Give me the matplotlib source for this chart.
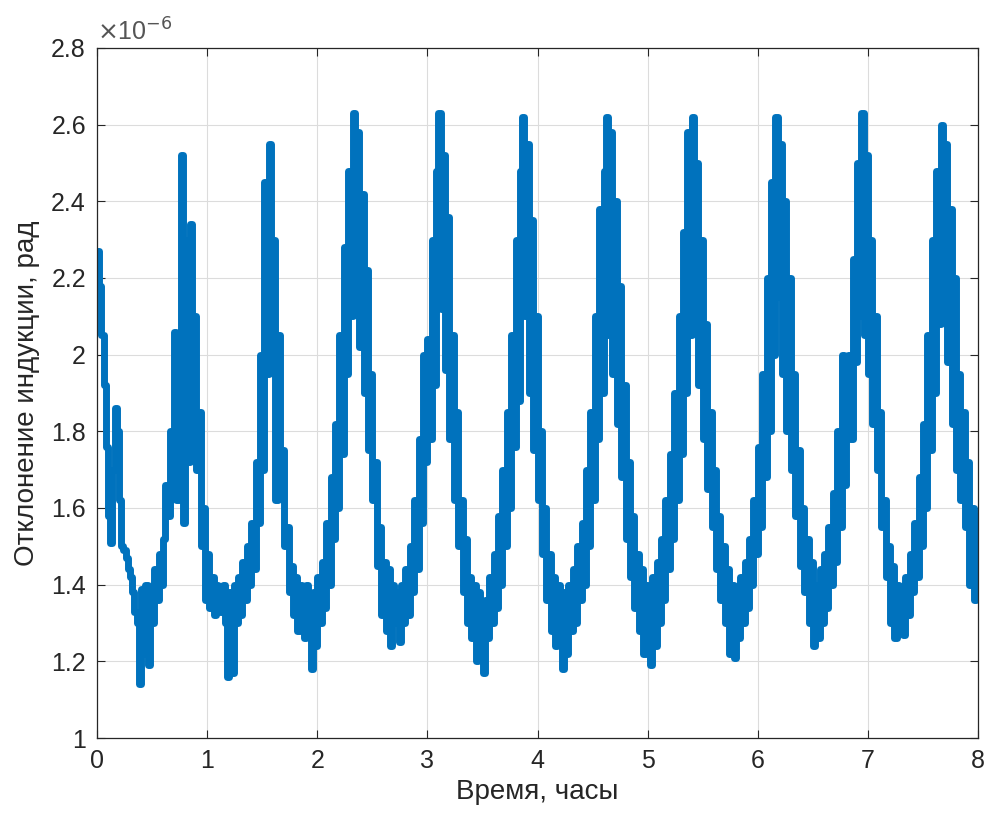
import numpy as np
import matplotlib
matplotlib.use('Agg')
import matplotlib.pyplot as plt
from matplotlib.ticker import FuncFormatter

plt.rcParams['font.family'] = ['Liberation Sans', 'DejaVu Sans']

# отклонение индукции, единицы 1e-6 рад, шаг 0.02 ч
otkl = [
    2.27, 2.18, 2.05, 1.92, 1.76, 1.58, 1.51, 1.70, 1.86, 1.80,
    1.62, 1.50, 1.49, 1.47, 1.44, 1.42, 1.38, 1.33, 1.30, 1.14,
    1.39, 1.22, 1.40, 1.19, 1.38, 1.30, 1.44, 1.36, 1.48, 1.40,
    1.52, 1.66, 1.58, 1.80, 1.64, 2.06, 1.62, 2.05, 2.52, 1.56,
    2.30, 1.72, 2.34, 1.80, 2.10, 1.70, 1.85, 1.50, 1.60, 1.36,
    1.48, 1.34, 1.42, 1.32, 1.40, 1.36, 1.33, 1.40, 1.30, 1.16,
    1.38, 1.17, 1.40, 1.30, 1.42, 1.32, 1.46, 1.36, 1.50, 1.40,
    1.56, 1.44, 1.72, 1.56, 2.00, 1.70, 2.45, 1.95, 2.55, 2.08,
    2.30, 1.62, 2.05, 1.70, 1.75, 1.50, 1.55, 1.38, 1.45, 1.32,
    1.42, 1.28, 1.40, 1.30, 1.26, 1.40, 1.32, 1.18, 1.38, 1.24,
    1.42, 1.30, 1.46, 1.34, 1.56, 1.40, 1.68, 1.52, 1.82, 1.60,
    2.05, 1.74, 2.28, 1.95, 2.48, 2.10, 2.63, 2.20, 2.58, 2.02,
    2.42, 1.90, 2.22, 1.75, 1.95, 1.62, 1.72, 1.45, 1.55, 1.32,
    1.46, 1.28, 1.44, 1.24, 1.40, 1.30, 1.38, 1.25, 1.40, 1.30,
    1.44, 1.32, 1.50, 1.38, 1.62, 1.44, 1.78, 1.56, 2.00, 1.72,
    2.04, 1.78, 2.30, 1.92, 2.48, 2.63, 2.12, 2.52, 1.96, 2.36,
    1.78, 2.05, 1.62, 1.85, 1.50, 1.62, 1.38, 1.52, 1.30, 1.42,
    1.26, 1.40, 1.20, 1.38, 1.22, 1.17, 1.36, 1.26, 1.42, 1.30,
    1.48, 1.34, 1.58, 1.40, 1.70, 1.50, 1.85, 1.60, 2.05, 1.76,
    2.30, 1.88, 2.48, 2.62, 2.10, 2.55, 1.90, 2.35, 1.75, 2.10,
    1.62, 1.80, 1.48, 1.60, 1.36, 1.48, 1.28, 1.42, 1.24, 1.40,
    1.30, 1.18, 1.38, 1.22, 1.40, 1.28, 1.44, 1.30, 1.50, 1.36,
    1.56, 1.40, 1.70, 1.50, 1.85, 1.62, 2.10, 1.78, 2.38, 1.90,
    2.48, 2.62, 2.05, 2.58, 1.95, 2.40, 1.82, 2.18, 1.68, 1.92,
    1.52, 1.72, 1.42, 1.58, 1.34, 1.48, 1.28, 1.44, 1.22, 1.40,
    1.30, 1.19, 1.42, 1.24, 1.46, 1.30, 1.52, 1.36, 1.62, 1.44,
    1.74, 1.52, 1.90, 1.62, 2.10, 1.74, 2.32, 1.90, 2.58, 2.05,
    2.62, 2.10, 2.50, 1.92, 2.30, 1.78, 2.08, 1.65, 1.85, 1.55,
    1.70, 1.44, 1.58, 1.36, 1.50, 1.30, 1.44, 1.22, 1.40, 1.21,
    1.38, 1.26, 1.42, 1.30, 1.46, 1.34, 1.52, 1.40, 1.62, 1.48,
    1.76, 1.55, 1.95, 1.68, 2.20, 1.80, 2.45, 2.00, 2.62, 2.15,
    2.55, 1.95, 2.40, 1.80, 2.20, 1.70, 1.95, 1.58, 1.75, 1.45,
    1.60, 1.38, 1.52, 1.30, 1.46, 1.24, 1.40, 1.26, 1.44, 1.30,
    1.48, 1.34, 1.55, 1.40, 1.64, 1.46, 1.80, 1.55, 2.00, 1.66,
    1.80, 2.00, 1.78, 2.25, 1.98, 2.50, 2.10, 2.63, 2.05, 2.52,
    1.95, 2.30, 1.82, 2.10, 1.70, 1.85, 1.55, 1.62, 1.42, 1.50,
    1.30, 1.45, 1.26, 1.40, 1.28, 1.38, 1.27, 1.42, 1.32, 1.48,
    1.38, 1.56, 1.42, 1.68, 1.50, 1.82, 1.60, 2.05, 1.75, 2.30,
    1.90, 2.48, 2.08, 2.60, 2.18, 2.55, 1.98, 2.38, 1.82, 2.20,
    1.70, 1.95, 1.62, 1.85, 1.55, 1.72, 1.40, 1.60, 1.36, 1.58,
    1.55,
]
vremya = np.linspace(0, 8, len(otkl))

fig = plt.figure(figsize=(9.9, 8.27), dpi=100)
ax = fig.add_axes([0.098, 0.1076, 0.89, 0.8344])

ax.plot(vremya, otkl, color='#0072BD', lw=5, drawstyle='steps-post')

ax.set_xlim(0, 8)
ax.set_ylim(1, 2.8)
ax.set_xticks(np.arange(0, 9, 1))
ax.set_yticks(np.arange(1, 2.81, 0.2))
ax.yaxis.set_major_formatter(FuncFormatter(lambda v, p: '%g' % round(v, 1)))
ax.grid(True, color='#dcdcdc', lw=0.8)
ax.set_axisbelow(True)

ax.tick_params(direction='in', top=True, right=True, length=6, width=0.8,
               colors='#262626', labelsize=18, pad=8)
for s in ax.spines.values():
    s.set_color('#262626')
    s.set_linewidth(0.9)

ax.set_xlabel('Время, часы', fontsize=20, color='#262626', labelpad=4)
ax.set_ylabel('Отклонение индукции, рад', fontsize=20, color='#262626',
              labelpad=8)
ax.text(0.0, 1.003, r'$\times$10$^{-6}$', transform=ax.transAxes,
        fontsize=18, color='#555555', va='bottom', ha='left')

fig.savefig('out.png')
